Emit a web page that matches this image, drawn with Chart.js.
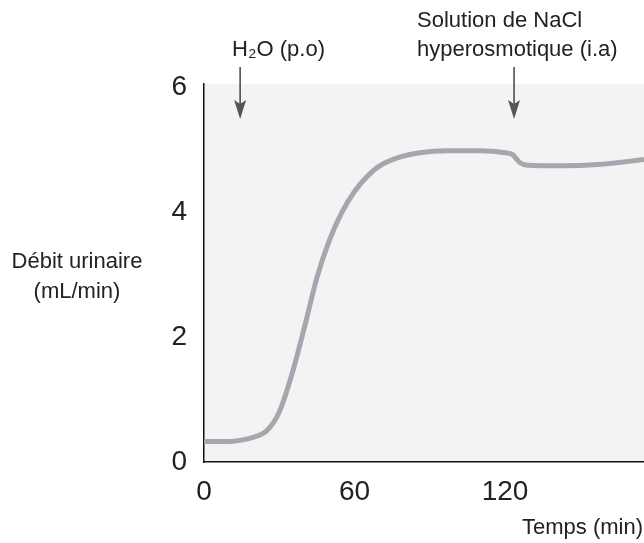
<!DOCTYPE html>
<html>
<head>
<meta charset="utf-8">
<script src="https://cdn.jsdelivr.net/npm/chart.js@4"></script>
<style>
  body { margin: 0; background: #fff; overflow: hidden; }
</style>
</head>
<body>
<canvas id="chart" width="644" height="543"></canvas>
<script>
// data
let times = [0, 5, 10, 15, 20, 25, 30, 35, 40, 45, 50, 55, 60, 65, 70, 78, 86, 97, 110, 120, 123, 126, 129, 143, 157, 175.4];
let debit = [0.33, 0.33, 0.33, 0.35, 0.40, 0.50, 0.80, 1.40, 2.15, 2.95, 3.55, 4.00, 4.33, 4.57, 4.74, 4.88, 4.95, 4.98, 4.98, 4.95, 4.92, 4.79, 4.75, 4.74, 4.76, 4.84];
let xTicks = [0, 60, 120];
let yTicks = [0, 2, 4, 6];
let arrowTimes = [14.4, 123.6];

const FONT = "'Liberation Sans', Arial, sans-serif";

// gray plot area + annotations
const decor = {
  id: 'decor',
  beforeDraw(c) {
    let a = c.chartArea, ctx = c.ctx;
    ctx.save();
    ctx.fillStyle = "#f3f3f3";
    ctx.fillRect(a.left, a.top, a.right - a.left, a.bottom - a.top);
    ctx.restore();
  },
  afterDraw(c) {
    let ctx = c.ctx;
    let xs = c.scales.x;
    ctx.save();
    ctx.fillStyle = "#222";
    ctx.font = "22px " + FONT;
    ctx.textBaseline = "middle";

    // y title
    ctx.textAlign = "center";
    ctx.fillText("Débit urinaire", 77, 262);
    ctx.fillText("(mL/min)", 77, 292);

    // x title
    ctx.textAlign = "right";
    ctx.fillText("Temps (min)", 643, 528);

    // arrows
    let ax1 = xs.getPixelForValue(arrowTimes[0]);
    let ax2 = xs.getPixelForValue(arrowTimes[1]);
    ctx.textAlign = "left";
    ctx.fillText("H₂O (p.o)", ax1 - 8, 50);
    ctx.fillText("Solution de NaCl", ax2 - 97, 21);
    ctx.fillText("hyperosmotique (i.a)", ax2 - 97, 50);

    [ax1, ax2].forEach(function (x) {
      ctx.strokeStyle = "#444";
      ctx.fillStyle = "#555";
      ctx.lineWidth = 1.5;
      ctx.beginPath();
      ctx.moveTo(x, 67);
      ctx.lineTo(x, 108);
      ctx.stroke();
      ctx.beginPath();
      ctx.moveTo(x - 6, 100);
      ctx.lineTo(x, 119);
      ctx.lineTo(x + 6, 100);
      ctx.lineTo(x, 104);
      ctx.closePath();
      ctx.fill();
    });
    ctx.restore();
  }
};

let ctx = document.getElementById("chart").getContext("2d");

let chart = new Chart(ctx, {
  type: 'line',
  data: {
    datasets: [{
      data: times.map((t, i) => ({ x: t, y: debit[i] })),
      borderColor: "#a6a6ae",
      borderWidth: 5,
      pointRadius: 0,
      cubicInterpolationMode: 'monotone',
      fill: false
    }]
  },
  options: {
    responsive: false,
    animation: false,
    layout: { padding: { top: 84, left: 0, right: 0, bottom: 0 } },
    plugins: { legend: { display: false }, tooltip: { enabled: false } },
    scales: {
      x: {
        type: 'linear',
        min: 0,
        max: 175.4,
        grid: { display: false },
        border: { color: "#111", width: 1.5 },
        ticks: { font: { family: FONT, size: 28 }, color: "#222", padding: 5, maxRotation: 0 },
        afterBuildTicks(s) { s.ticks = xTicks.map(v => ({ value: v })); },
        afterFit(s) { s.height = 81; }
      },
      y: {
        min: 0,
        max: 6.05,
        grid: { display: false },
        border: { color: "#111", width: 1.5 },
        ticks: { font: { family: FONT, size: 28 }, color: "#222", padding: 9 },
        afterBuildTicks(s) { s.ticks = yTicks.map(v => ({ value: v })); },
        afterFit(s) { s.width = 204; }
      }
    }
  },
  plugins: [decor]
});
</script>
</body>
</html>
